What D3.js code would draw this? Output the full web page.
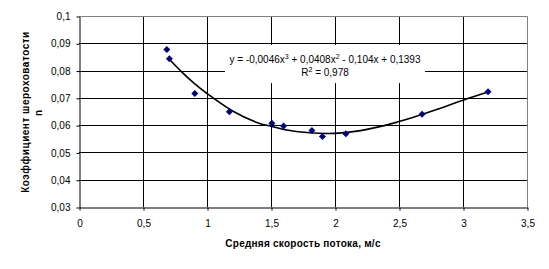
<!DOCTYPE html>
<html>
<head>
<meta charset="utf-8">
<script src="https://cdn.jsdelivr.net/npm/d3@7.9.0/dist/d3.min.js"></script>
<style>
  body { margin: 0; background: #fff; }
  svg { display: block; font-family: "Liberation Sans", Arial, sans-serif; }
</style>
</head>
<body>
<svg id="chart" width="549" height="269"></svg>
<script>
// measured points (velocity, roughness)
const speed = [0.686, 0.706, 0.905, 1.175, 1.507, 1.598, 1.82, 1.902, 2.085, 2.68, 3.196];
const rough = [0.0877, 0.0843, 0.0716, 0.0649, 0.0607, 0.0597, 0.058, 0.0558, 0.0568, 0.064, 0.0722];

// trend line
const trendX = [0.7, 0.8, 0.9, 1.0, 1.2, 1.4, 1.5, 1.6, 1.8, 2.0, 2.2, 2.4, 2.5, 2.6, 2.8, 3.0, 3.2];
const trendY = [0.0844, 0.0796, 0.0753, 0.0716, 0.0652, 0.0608, 0.0596, 0.0584, 0.0572, 0.0570, 0.0580, 0.0600, 0.0613, 0.0627, 0.0658, 0.0691, 0.0722];

const xTicks = [0, 0.5, 1, 1.5, 2, 2.5, 3, 3.5];
const yTicks = [0.03, 0.04, 0.05, 0.06, 0.07, 0.08, 0.09, 0.1];

const eqLine1 = ['y = -0,0046x', '3', ' + 0,0408x', '2', ' - 0,104x + 0,1393'];
const eqLine2 = ['R', '2', ' = 0,978'];

const svg = d3.select('#chart');
const pL = 79, pR = 527, pT = 16, pB = 207;

const x = d3.scaleLinear().domain([0, 3.5]).range([pL, pR]);
const y = d3.scaleLinear().domain([0.03, 0.1]).range([pB, pT]);

const comma = d => String(d).replace('.', ',');

// gridlines
svg.append('g')
  .selectAll('line')
  .data(yTicks.slice(1, -1))
  .join('line')
  .attr('x1', pL).attr('x2', pR)
  .attr('y1', d => Math.round(y(d)) + 0.5).attr('y2', d => Math.round(y(d)) + 0.5)
  .attr('stroke', '#000');

svg.append('g')
  .selectAll('line')
  .data(xTicks.slice(1, -1))
  .join('line')
  .attr('y1', pT).attr('y2', pB)
  .attr('x1', d => Math.round(x(d)) + 0.5).attr('x2', d => Math.round(x(d)) + 0.5)
  .attr('stroke', '#000');

// grey frame on top/right
svg.append('path')
  .attr('d', `M${pL},${pT + 0.5}H${pR + 0.5}V${pB}`)
  .attr('fill', 'none')
  .attr('stroke', '#808080');

// axes
const xAxis = svg.append('g')
  .attr('transform', `translate(0.5,${pB + 0.5})`)
  .call(d3.axisBottom(x).tickValues(xTicks).tickFormat(comma).tickSize(3).tickSizeOuter(0).tickPadding(9));
const yAxis = svg.append('g')
  .attr('transform', `translate(${pL + 0.5},0.5)`)
  .call(d3.axisLeft(y).tickValues(yTicks).tickFormat(comma).tickSize(3).tickSizeOuter(0).tickPadding(6));

[xAxis, yAxis].forEach(a => {
  a.selectAll('.domain, .tick line').attr('stroke', '#000');
  a.selectAll('text').attr('fill', '#000').style('font-size', '10px');
});

// trend line
svg.append('path')
  .datum(trendX.map((v, i) => [v, trendY[i]]))
  .attr('fill', 'none')
  .attr('stroke', '#000')
  .attr('stroke-width', 1.6)
  .attr('d', d3.line().x(d => x(d[0])).y(d => y(d[1])).curve(d3.curveCatmullRom));

// markers
svg.append('g')
  .selectAll('path')
  .data(speed.map((v, i) => [v, rough[i]]))
  .join('path')
  .attr('transform', d => `translate(${x(d[0])},${y(d[1])})`)
  .attr('d', 'M0,-3.5L3.5,0L0,3.5L-3.5,0Z')
  .attr('fill', '#000080');

// equation label with white box
svg.append('rect')
  .attr('x', 225).attr('y', 45).attr('width', 200).attr('height', 38)
  .attr('fill', '#fff');

function eqText(parts, cx, yy) {
  const t = svg.append('text')
    .attr('x', cx).attr('y', yy)
    .attr('text-anchor', 'middle')
    .style('font-size', '10px')
    .attr('fill', '#000');
  parts.forEach((p, i) => {
    const sup = i % 2 === 1;
    t.append('tspan')
      .attr('dy', sup ? -4 : (i > 0 ? 4 : 0))
      .style('font-size', sup ? '7px' : '10px')
      .text(p);
  });
}
eqText(eqLine1, 325, 63);
eqText(eqLine2, 325, 76);

// axis titles
svg.append('text')
  .attr('x', (pL + pR) / 2).attr('y', 247)
  .attr('text-anchor', 'middle')
  .style('font-size', '10px').style('font-weight', 'bold')
  .style('letter-spacing', '0.25px')
  .text('Средняя скорость потока, м/с');

svg.append('text')
  .attr('transform', 'translate(29,112) rotate(-90)')
  .attr('text-anchor', 'middle')
  .style('font-size', '10px').style('font-weight', 'bold')
  .style('letter-spacing', '0.5px')
  .text('Коэффициент шероховатости');

svg.append('text')
  .attr('transform', 'translate(42,113) rotate(-90)')
  .attr('text-anchor', 'middle')
  .style('font-size', '10px').style('font-weight', 'bold')
  .text('n');
</script>
</body>
</html>
